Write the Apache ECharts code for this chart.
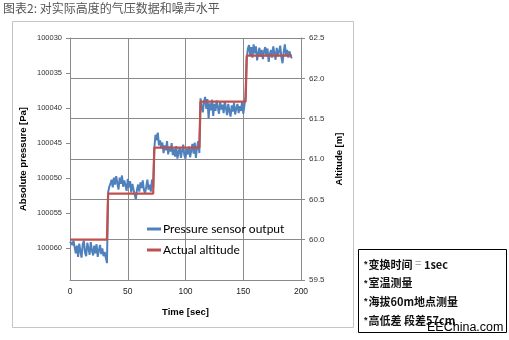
<!DOCTYPE html>
<html>
<head>
<meta charset="utf-8">
<script src="https://cdn.jsdelivr.net/npm/echarts@6/dist/echarts.min.js"></script>
<style>
  html, body { margin: 0; padding: 0; background: #ffffff; }
  #chart { width: 509px; height: 340px; }
</style>
</head>
<body>
<div id="chart"></div>
<script>
// Time axis (seconds) ticks
const timeTicks = [0, 50, 100, 150, 200];

// Pressure sensor output [Pa], one reading per second from t = 0
const pressure = [
  // 0 - 32 s
  100059.0, 100058.8, 100059.5, 100058.9, 100059.8, 100060.7, 100059.6, 100061.2, 100059.3, 100060.4,
  100061.3, 100059.4, 100058.9, 100060.6, 100061.1, 100059.2, 100060.0, 100060.9, 100059.1, 100060.3,
  100061.0, 100059.6, 100060.7, 100059.4, 100061.2, 100060.3, 100059.5, 100060.8, 100060.0, 100061.1,
  100060.5, 100061.3, 100062.1,
  // 33 - 72 s
  100052.0, 100051.2, 100050.8, 100050.2, 100051.3, 100049.9, 100050.9, 100049.7, 100050.7, 100051.6,
  100049.9, 100050.8, 100049.6, 100051.2, 100050.3, 100051.0, 100051.8, 100050.1, 100051.3, 100050.4,
  100052.0, 100050.8, 100051.6, 100052.3, 100053.0, 100051.6, 100050.9, 100051.9, 100050.6, 100051.4,
  100050.3, 100051.7, 100052.1, 100051.2, 100050.2, 100051.6, 100050.9, 100051.9, 100050.2, 100051.3,
  // 73 - 112 s
  100045.7, 100043.8, 100044.6, 100043.5, 100045.3, 100044.6, 100045.7, 100044.9, 100046.4, 100045.3,
  100046.0, 100044.7, 100046.6, 100045.5, 100046.2, 100045.0, 100046.7, 100045.8, 100046.9, 100045.4,
  100047.2, 100046.3, 100045.6, 100047.1, 100046.1, 100045.2, 100046.7, 100047.2, 100045.8, 100046.6,
  100045.5, 100047.0, 100046.0, 100045.1, 100046.5, 100044.9, 100047.1, 100045.6, 100044.7, 100046.4,
  // 113 - 152 s
  100038.6, 100039.7, 100040.6, 100039.1, 100038.4, 100040.1, 100038.7, 100041.5, 100039.3, 100040.3,
  100038.8, 100041.1, 100039.4, 100040.4, 100038.9, 100039.9, 100040.8, 100039.1, 100040.2, 100039.5,
  100040.7, 100039.0, 100040.0, 100041.0, 100039.4, 100040.4, 100041.2, 100039.6, 100040.5, 100039.2,
  100040.9, 100040.0, 100039.4, 100040.7, 100039.7, 100040.4, 100039.0, 100040.8, 100039.6, 100038.4,
  // 153 - 192 s
  100033.0, 100031.5, 100031.0, 100032.4, 100031.3, 100032.8, 100030.9, 100032.2, 100031.2, 100033.2,
  100032.2, 100031.4, 100032.7, 100031.7, 100033.0, 100031.9, 100031.3, 100032.6, 100031.5, 100033.4,
  100032.3, 100031.7, 100032.8, 100031.2, 100032.2, 100033.1, 100031.4, 100032.6, 100031.9, 100031.1,
  100032.7, 100033.6, 100032.0, 100030.9, 100032.4, 100031.7, 100032.8, 100031.9, 100032.5, 100032.9
];

// Actual altitude [m]: one level per 40 s stage, 57 cm apart
const altitudeLevels = [60.00, 60.57, 61.14, 61.71, 62.28];
const stageStart = [0, 33, 73, 113, 153];
const stageEnd   = [32, 72, 112, 152, 192];

// Axis tick labels
const pressureTicks = [100030, 100035, 100040, 100045, 100050, 100055, 100060];
const altitudeTicks = [59.5, 60.0, 60.5, 61.0, 61.5, 62.0, 62.5];

const seriesNames = ['Pressure sensor output', 'Actual altitude'];

const pressureData = pressure.map((p, i) => [i, p]);
const altitudeData = [];
altitudeLevels.forEach((lv, k) => {
  altitudeData.push([stageStart[k], lv]);
  altitudeData.push([stageEnd[k], lv]);
});

const gridColor = '#8a8a8a';
const labelFont = 'Liberation Sans';
const chart = echarts.init(document.getElementById('chart'), null, { renderer: 'canvas' });

chart.setOption({
  animation: false,
  backgroundColor: '#ffffff',
  grid: { left: 70, top: 38, width: 231, height: 242, containLabel: false },
  xAxis: {
    type: 'value',
    min: timeTicks[0],
    max: timeTicks[timeTicks.length - 1],
    interval: timeTicks[1] - timeTicks[0],
    name: 'Time [sec]',
    nameLocation: 'middle',
    nameGap: 27,
    nameTextStyle: { fontSize: 9.5, fontWeight: 'bold', color: '#000', fontFamily: labelFont },
    axisLine: { lineStyle: { color: gridColor, width: 1 } },
    axisTick: { show: false },
    axisLabel: { fontSize: 8.5, color: '#222', margin: 7, fontFamily: labelFont },
    splitLine: { show: true, lineStyle: { color: gridColor, width: 1 } }
  },
  yAxis: [
    {
      type: 'value',
      inverse: true,
      position: 'left',
      min: pressureTicks[0],
      max: 100064.5,
      interval: pressureTicks[1] - pressureTicks[0],
      name: 'Absolute pressure [Pa]',
      nameLocation: 'middle',
      nameRotate: 90,
      nameGap: 42,
      nameTextStyle: { fontSize: 9.5, fontWeight: 'bold', color: '#000', fontFamily: labelFont },
      axisLine: { show: true, lineStyle: { color: gridColor, width: 1 } },
      axisTick: { show: true, length: 4, lineStyle: { color: gridColor } },
      axisLabel: {
        fontSize: 7.5, color: '#333', margin: 8, fontFamily: labelFont,
        showMaxLabel: false, formatter: v => String(v)
      },
      splitLine: { show: false }
    },
    {
      type: 'value',
      position: 'right',
      min: altitudeTicks[0],
      max: altitudeTicks[altitudeTicks.length - 1],
      interval: 0.5,
      name: 'Altitude [m]',
      nameLocation: 'middle',
      nameRotate: 90,
      nameGap: 33,
      nameTextStyle: { fontSize: 9.5, fontWeight: 'bold', color: '#000', fontFamily: labelFont },
      axisLine: { show: true, lineStyle: { color: gridColor, width: 1 } },
      axisTick: { show: true, length: 4, lineStyle: { color: gridColor } },
      axisLabel: { fontSize: 8, color: '#333', margin: 8, fontFamily: labelFont, formatter: v => v.toFixed(1) },
      splitLine: { show: true, lineStyle: { color: gridColor, width: 1 } }
    }
  ],
  legend: {
    orient: 'vertical',
    left: 142,
    top: 218,
    itemWidth: 14,
    itemHeight: 3,
    itemGap: 9,
    icon: 'rect',
    textStyle: { fontFamily: 'Lato', fontSize: 12, color: '#000', padding: [0, 0, 0, -3] },
    data: seriesNames
  },
  series: [
    {
      name: seriesNames[0],
      type: 'line',
      yAxisIndex: 0,
      data: pressureData,
      showSymbol: false,
      symbol: 'none',
      color: '#4f81bd',
      lineStyle: { color: '#4f81bd', width: 2 },
      z: 2
    },
    {
      name: seriesNames[1],
      type: 'line',
      yAxisIndex: 1,
      data: altitudeData,
      showSymbol: false,
      symbol: 'none',
      color: '#c0504d',
      lineStyle: { color: '#c0504d', width: 2.25 },
      z: 3
    }
  ],
  graphic: [
    {
      type: 'text',
      left: 3,
      top: 2,
      style: {
        text: '图表2: 对实际高度的气压数据和噪声水平',
        font: '12px "Noto Sans CJK SC"',
        fill: '#555'
      }
    },
    {
      type: 'rect',
      shape: { x: 12.5, y: 21.5, width: 341, height: 306 },
      style: { fill: 'none', stroke: '#c4c4c4', lineWidth: 1 },
      z: -1
    },
    {
      type: 'rect',
      shape: { x: 358.5, y: 249.5, width: 148, height: 83 },
      style: { fill: '#fff', stroke: '#000', lineWidth: 1 }
    },
    {
      type: 'text',
      left: 364,
      top: 255,
      style: {
        text: '{s|*}变换时间 {g|=} 1sec\n{s|*}室温测量\n{s|*}海拔60m地点测量\n{s|*}高低差 段差57cm',
        font: 'bold 11px "Noto Sans CJK SC"',
        fill: '#111',
        lineHeight: 18.7,
        rich: {
          s: { fontSize: 9, fontWeight: 'bold', fill: '#111', lineHeight: 18.7, padding: [0, 1, 0, 0] },
          g: { fill: '#aaa', fontSize: 11, lineHeight: 18.7 }
        }
      }
    },
    {
      type: 'text',
      left: 427,
      top: 321,
      style: {
        text: 'EEChina.com',
        font: '12.5px "Liberation Sans"',
        fill: '#000'
      }
    }
  ]
});
</script>
</body>
</html>
